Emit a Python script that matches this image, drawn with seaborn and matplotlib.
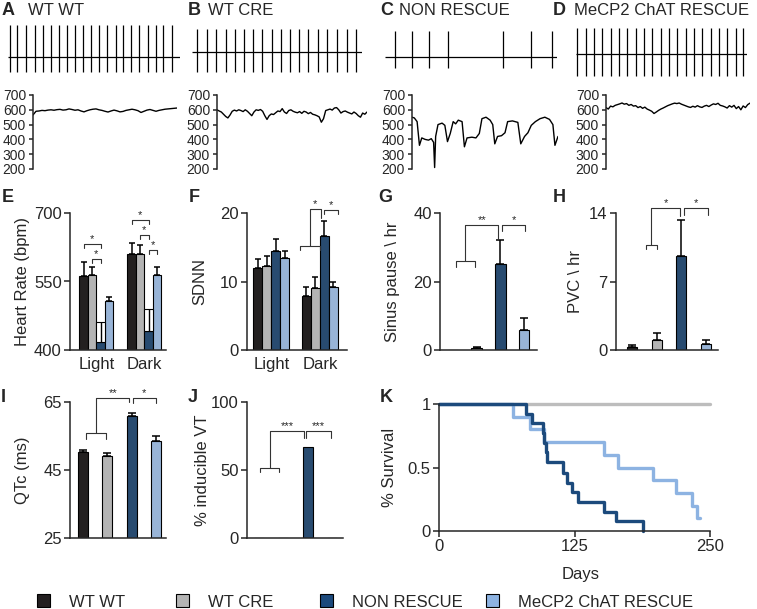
import numpy as np
import pandas as pd
import seaborn as sns
import matplotlib.pyplot as plt
from matplotlib.patches import Patch

# ---------------- data ----------------
genotypes = ['WT WT', 'WT CRE', 'NON RESCUE', 'MeCP2 ChAT RESCUE']
palette = ['#231f20', '#b4b4b4', '#1c4a7c', '#8db3e2']

# ECG beat times (ms) over a 2 s strip
ecg_wtwt = [25, 110, 210, 315, 405, 500, 595, 685, 780, 875, 970, 1060, 1155,
            1250, 1340, 1430, 1525, 1625, 1720, 1805, 1905]
ecg_wtcre = [55, 173, 282, 400, 506, 616, 721, 827, 938, 1047, 1153, 1262,
             1368, 1478, 1584, 1702, 1819, 1929]
ecg_non = [117, 318, 516, 737, 1371, 1697, 1942]
ecg_mecp2 = [15, 113, 210, 308, 405, 503, 600, 698, 795, 893, 990, 1088, 1185,
             1283, 1380, 1478, 1575, 1673, 1770, 1868, 1950]
ecg_base = [-2, 3, -2, 1]
ecg_top = [30, 26, 24, 27]
ecg_bottom = [-17, -17, -13, -21]

# heart-rate traces (bpm)
hr_wtwt = [565, 590, 592, 596, 594, 598, 600, 597, 601, 603, 598, 600, 606, 602,
           597, 600, 592, 586, 594, 600, 604, 606, 600, 596, 590, 585, 592, 598,
           593, 586, 589, 596, 600, 604, 600, 594, 582, 590, 598, 602, 596, 590,
           596, 600, 604, 606, 608, 610, 612]
hr_wtcre = [600, 592, 585, 570, 555, 545, 565, 590, 598, 592, 600, 595, 588, 600,
            590, 575, 560, 585, 600, 596, 602, 590, 560, 535, 560, 572, 568, 580,
            592, 588, 608, 585, 575, 595, 600, 590, 584, 580, 588, 576, 590, 585,
            574, 582, 570, 566, 560, 552, 516, 540, 595, 600, 605, 598, 612, 615,
            600, 578, 588, 592, 584, 578, 572, 585, 575, 560, 550, 578, 570, 585]
hr_non_t = [0, 1.6, 3.5, 5.1, 6.7, 9.0, 11.3, 13.2, 14.8, 15.5, 16.2, 17.8, 20.6,
            22.5, 24.3, 26.2, 28.2, 29.9, 31.7, 34.3, 35.9, 37.7, 41.0, 43.8,
            46.1, 47.9, 50.7, 53.5, 55.3, 56.7, 58.6, 61.3, 63.7, 65.5, 68.8,
            72.5, 74.5, 77.1, 79.4, 81.7, 84.5, 87.7, 91.0, 94.2, 96.5, 97.9, 100]
hr_non = [550, 545, 520, 360, 410, 400, 395, 405, 380, 210, 420, 500, 510, 495,
          385, 440, 520, 505, 530, 520, 350, 410, 415, 410, 440, 540, 550, 530,
          500, 370, 420, 425, 445, 520, 525, 515, 370, 420, 445, 495, 520, 540,
          550, 535, 500, 360, 420]
hr_mecp2 = [615, 605, 625, 620, 630, 635, 640, 646, 638, 642, 630, 636, 625, 628,
            615, 622, 610, 618, 605, 598, 590, 575, 585, 596, 605, 612, 620, 628,
            634, 640, 645, 642, 646, 638, 632, 626, 620, 616, 624, 618, 628, 620,
            616, 625, 630, 622, 632, 640, 636, 644, 630, 626, 620, 612, 628, 618,
            630, 608, 622, 600, 626, 615, 635, 645]

# E heart rate (bpm), mean and SEM
periods = ['Light', 'Dark']
hr_light = [562, 564, 418, 507]
hr_light_sem = [31, 18, 44, 10]
hr_dark = [610, 610, 442, 564]
hr_dark_sem = [25, 20, 47, 17]

# F SDNN
sdnn_light = [11.95, 12.3, 14.4, 13.4]
sdnn_light_sem = [1.35, 1.35, 1.8, 1.1]
sdnn_dark = [7.95, 9.1, 16.7, 9.27]
sdnn_dark_sem = [1.3, 1.6, 2.1, 0.6]

# G sinus pause per hr
pause = [0, 0.6, 25, 5.7]
pause_sem = [0, 0.3, 7, 3.7]

# H PVC per hr
pvc = [0.27, 1.02, 9.56, 0.58]
pvc_sem = [0.28, 0.75, 3.75, 0.44]

# I QTc (ms)
qtc = [50.2, 49.1, 60.8, 53.6]
qtc_sem = [0.7, 0.8, 0.9, 1.5]

# J % inducible VT
vt = [0, 0, 66.7, 0]

# K survival (steps)
km_non_t = [0, 80, 86, 96, 97, 99, 100, 114, 118, 123, 128, 152, 163, 188]
km_non_s = [1, .92, .85, .77, .69, .62, .54, .46, .38, .31, .23, .15, .08, 0]
km_mecp2_t = [0, 68, 84, 97, 152, 165, 197, 219, 233, 238, 241]
km_mecp2_s = [1, .9, .8, .7, .6, .5, .4, .3, .2, .1, .1]
km_wt_t = [0, 250]
km_wt_s = [1, 1]

# ---------------- style ----------------
sns.set_theme(style='ticks')
plt.rcParams['font.family'] = ['Liberation Sans', 'DejaVu Sans']
plt.rcParams['axes.linewidth'] = 1.1

W, H = 757, 609
fig = plt.figure(figsize=(W / 100, H / 100), dpi=100)


def add_ax(x0, y0, x1, y1):
    return fig.add_axes([x0 / W, 1 - y1 / H, (x1 - x0) / W, (y1 - y0) / H])


def ftext(x, y, s, **kw):
    fig.text(x / W, 1 - y / H, s, **kw)


def ylabel_px(ax, box, text, xc):
    ax.set_ylabel(text, fontsize=12, va='center')
    ax.yaxis.set_label_coords((xc - box[0]) / (box[2] - box[0]), 0.5)


def bracket(ax, x0, x1, y, h0, h1, label):
    ax.plot([x0, x0, x1, x1], [y - h0, y, y, y - h1], color='#333333', lw=0.8,
            clip_on=False)
    ax.text((x0 + x1) / 2, y, label, ha='center', va='bottom', fontsize=8,
            clip_on=False)


def joined(ax, a, b, ylow, hlow, c, ytop, hc, label):
    m = (a + b) / 2
    ax.plot([a, a, b, b], [ylow - hlow, ylow, ylow, ylow - hlow],
            color='#333333', lw=0.8, clip_on=False)
    ax.plot([m, m, c, c], [ylow, ytop, ytop, ytop - hc], color='#333333',
            lw=0.8, clip_on=False)
    ax.text((m + c) / 2, ytop, label, ha='center', va='bottom', fontsize=8,
            clip_on=False)


def style_bar_ax(ax, ylim, yticks, xlim):
    ax.set_ylim(*ylim)
    ax.set_yticks(yticks)
    ax.set_xlim(*xlim)
    sns.despine(ax=ax)
    ax.tick_params(axis='y', direction='out', length=4, width=1.1, pad=2,
                   labelsize=12)
    ax.tick_params(axis='x', length=0, pad=5, labelsize=12)
    ax.set_xlabel('')


# ---------------- A-D titles, ECG strips and HR traces ----------------
titles_x = [(2, 28), (188, 208), (380, 399), (553, 574)]
for (lx, tx), letter, g in zip(titles_x, 'ABCD', genotypes):
    ftext(lx, 15, letter, fontsize=13, fontweight='bold', va='baseline')
    ftext(tx, 15, g, fontsize=12, va='baseline')

ecg_boxes = [(8, 22, 180, 82), (192, 22, 362, 82), (385, 22, 557, 82),
             (576, 22, 747, 82)]
for i, (box, beats) in enumerate(zip(ecg_boxes, [ecg_wtwt, ecg_wtcre, ecg_non,
                                                 ecg_mecp2])):
    ax = add_ax(*box)
    ax.hlines(ecg_base[i], 0, 2000, color='black', lw=0.9)
    ax.vlines(beats, ecg_bottom[i], ecg_top[i], color='black', lw=0.9)
    ax.set_xlim(0, 2000)
    ax.set_ylim(-27, 33)
    ax.axis('off')

hr_boxes = [(33, 95, 177, 169), (217, 95, 367, 169), (412, 95, 558, 169),
            (606, 95, 750, 169)]
traces = [(np.arange(len(hr_wtwt)), hr_wtwt),
          (np.arange(len(hr_wtcre)), hr_wtcre),
          (np.array(hr_non_t), hr_non),
          (np.arange(len(hr_mecp2)), hr_mecp2)]
for box, (tx, ty) in zip(hr_boxes, traces):
    ax = add_ax(*box)
    sns.lineplot(x=tx, y=ty, ax=ax, color='black', lw=1.0, estimator=None)
    ax.set_xlim(tx[0], tx[-1])
    ax.set_ylim(200, 700)
    ax.set_yticks([200, 300, 400, 500, 600, 700])
    for s in ['top', 'right', 'bottom']:
        ax.spines[s].set_visible(False)
    ax.set_xticks([])
    ax.tick_params(axis='y', length=3, width=1.1, pad=2, labelsize=10)
    ax.set_xlabel('')
    ax.set_ylabel('')

# ---------------- E heart rate ----------------
boxE = (70, 213, 166, 350)
axE = add_ax(*boxE)
df_e = pd.DataFrame({'period': [p for p in periods for _ in genotypes],
                     'genotype': genotypes * 2,
                     'hr': hr_light + hr_dark})
sns.barplot(data=df_e, x='period', y='hr', hue='genotype', hue_order=genotypes,
            palette=palette, width=0.71, edgecolor='black', linewidth=0.8,
            errorbar=None, legend=False, ax=axE)
pe = sorted(axE.patches, key=lambda p: p.get_x())
ex = [p.get_x() + p.get_width() / 2 for p in pe]
ew = pe[0].get_width()
e_mean = hr_light + hr_dark
e_sem = hr_light_sem + hr_dark_sem
for k in range(8):
    if k % 4 == 2:
        axE.bar(ex[k], e_sem[k], bottom=e_mean[k], width=ew, color='white',
                edgecolor='black', linewidth=0.8)
        axE.errorbar(ex[k], e_mean[k], yerr=[[0], [e_sem[k]]], fmt='none',
                     ecolor='black', elinewidth=1.0, capsize=0)
    else:
        axE.errorbar(ex[k], e_mean[k], yerr=[[0], [e_sem[k]]], fmt='none',
                     ecolor='black', elinewidth=1.1, capsize=2.2, capthick=1.1)
style_bar_ax(axE, (400, 700), [400, 550, 700], (-0.55, 1.45))
bracket(axE, ex[0], ex[2], 633, 9, 9, '*')
bracket(axE, ex[1], ex[2], 599, 9, 9, '*')
bracket(axE, ex[4], ex[6], 685, 9, 9, '*')
bracket(axE, ex[5], ex[6], 652, 10, 10, '*')
bracket(axE, ex[6], ex[7], 619, 9, 9, '*')
ylabel_px(axE, boxE, 'Heart Rate (bpm)', 23)

# ---------------- F SDNN ----------------
boxF = (247, 213, 347, 350)
axF = add_ax(*boxF)
df_f = pd.DataFrame({'period': [p for p in periods for _ in genotypes],
                     'genotype': genotypes * 2,
                     'sdnn': sdnn_light + sdnn_dark})
sns.barplot(data=df_f, x='period', y='sdnn', hue='genotype',
            hue_order=genotypes, palette=palette, width=0.74,
            edgecolor='black', linewidth=0.8, errorbar=None, legend=False,
            ax=axF)
pf = sorted(axF.patches, key=lambda p: p.get_x())
fx = [p.get_x() + p.get_width() / 2 for p in pf]
axF.errorbar(fx, sdnn_light + sdnn_dark,
             yerr=[np.zeros(8), sdnn_light_sem + sdnn_dark_sem], fmt='none',
             ecolor='black', elinewidth=1.1, capsize=2.4, capthick=1.1)
style_bar_ax(axF, (0, 20), [0, 10, 20], (-0.5, 1.56))
joined(axF, 0.59, 1.0, 15.2, 0.6, 1.02, 20.6, 1.3, '*')
bracket(axF, 1.08, 1.37, 20.4, 0.6, 0.6, '*')
ylabel_px(axF, boxF, 'SDNN', 200)


# ---------------- G-J single bars ----------------
def single_bars(box, values, sems, width, ylim, yticks, xlim, label, lx):
    ax = add_ax(*box)
    df = pd.DataFrame({'genotype': genotypes, 'v': values})
    sns.barplot(data=df, x='genotype', y='v', hue='genotype',
                order=genotypes, hue_order=genotypes, palette=palette,
                width=width, edgecolor='black', linewidth=0.8, errorbar=None,
                legend=False, ax=ax)
    if sems is not None:
        idx = [i for i, s in enumerate(sems) if s > 0]
        ax.errorbar(idx, [values[i] for i in idx],
                    yerr=[np.zeros(len(idx)), [sems[i] for i in idx]],
                    fmt='none', ecolor='black', elinewidth=1.1, capsize=3,
                    capthick=1.1)
    style_bar_ax(ax, ylim, yticks, xlim)
    ax.set_xticks([])
    ylabel_px(ax, box, label, lx)
    return ax


boxG = (440, 213, 537, 350)
axG = single_bars(boxG, pause, pause_sem, 0.45, (0, 40), [0, 20, 40],
                  (-0.55, 3.55), 'Sinus pause \\ hr', 393)
joined(axG, 0.11, 0.94, 25.9, 1.7, 1.92, 36.6, 4.6, '**')
bracket(axG, 2.06, 3.06, 36.6, 2.0, 2.0, '*')

boxH = (616, 213, 718, 350)
axH = single_bars(boxH, pvc, pvc_sem, 0.41, (0, 14), [0, 7, 14],
                  (-0.65, 3.49), 'PVC \\ hr', 575)
joined(axH, 0.57, 1.0, 10.76, 0.46, 1.96, 14.5, 0.8, '*')
bracket(axH, 2.09, 3.07, 14.5, 0.7, 0.7, '*')

boxI = (70, 402, 166, 538)
axI = single_bars(boxI, qtc, qtc_sem, 0.42, (25, 65), [25, 45, 65],
                  (-0.53, 3.41), 'QTc (ms)', 22)
joined(axI, 0.12, 0.96, 55.8, 1.6, 1.91, 66.2, 1.2, '**')
bracket(axI, 2.05, 3.0, 66.2, 1.5, 1.5, '*')

boxJ = (247, 402, 343, 538)
axJ = single_bars(boxJ, vt, None, 0.41, (0, 100), [0, 50, 100],
                  (-0.49, 3.45), '% inducible VT', 203)
joined(axJ, 0.05, 0.84, 51.2, 2.9, 1.85, 78.8, 5.4, '***')
bracket(axJ, 1.93, 2.95, 78.8, 5.4, 5.4, '***')

# ---------------- K survival ----------------
boxK = (439, 404, 710, 531)
axK = add_ax(*boxK)
sns.lineplot(x=km_wt_t, y=km_wt_s, drawstyle='steps-post', color='#bdbdbd',
             lw=2.4, estimator=None, ax=axK)
sns.lineplot(x=km_mecp2_t, y=km_mecp2_s, drawstyle='steps-post',
             color=palette[3], lw=2.4, estimator=None, ax=axK)
sns.lineplot(x=km_non_t, y=km_non_s, drawstyle='steps-post', color=palette[2],
             lw=2.4, estimator=None, ax=axK)
for ln in axK.lines:
    ln.set_clip_on(False)
axK.set_xlim(0, 250)
axK.set_ylim(0, 1)
axK.set_xticks([0, 125, 250])
axK.set_yticks([0, 0.5, 1])
axK.set_yticklabels(['0', '0.5', '1'])
sns.despine(ax=axK)
axK.tick_params(direction='out', length=4, width=1.1, pad=2, labelsize=12)
axK.set_xlabel('Days', fontsize=12, va='center')
axK.xaxis.set_label_coords((581 - 439) / 271, -(575 - 531) / 127)
ylabel_px(axK, boxK, '% Survival', 390)

# ---------------- panel letters E-K ----------------
for letter, x, y in [('E', 2, 202), ('F', 189, 202), ('G', 378, 202),
                     ('H', 553, 202), ('I', 1, 402), ('J', 188, 402),
                     ('K', 380, 402)]:
    ftext(x, y, letter, fontsize=13, fontweight='bold', va='baseline')

# ---------------- legend ----------------
for g, c, x in zip(genotypes, palette, [37, 176, 320, 486]):
    fig.legend(handles=[Patch(facecolor=c, edgecolor='black', lw=0.8, label=g)],
               loc='center left', bbox_to_anchor=(x / W, 1 - 602 / H),
               frameon=False, borderpad=0, borderaxespad=0, fontsize=12,
               handlelength=0.8, handleheight=0.8, handletextpad=1.1)

fig.savefig('out.png', dpi=100)
